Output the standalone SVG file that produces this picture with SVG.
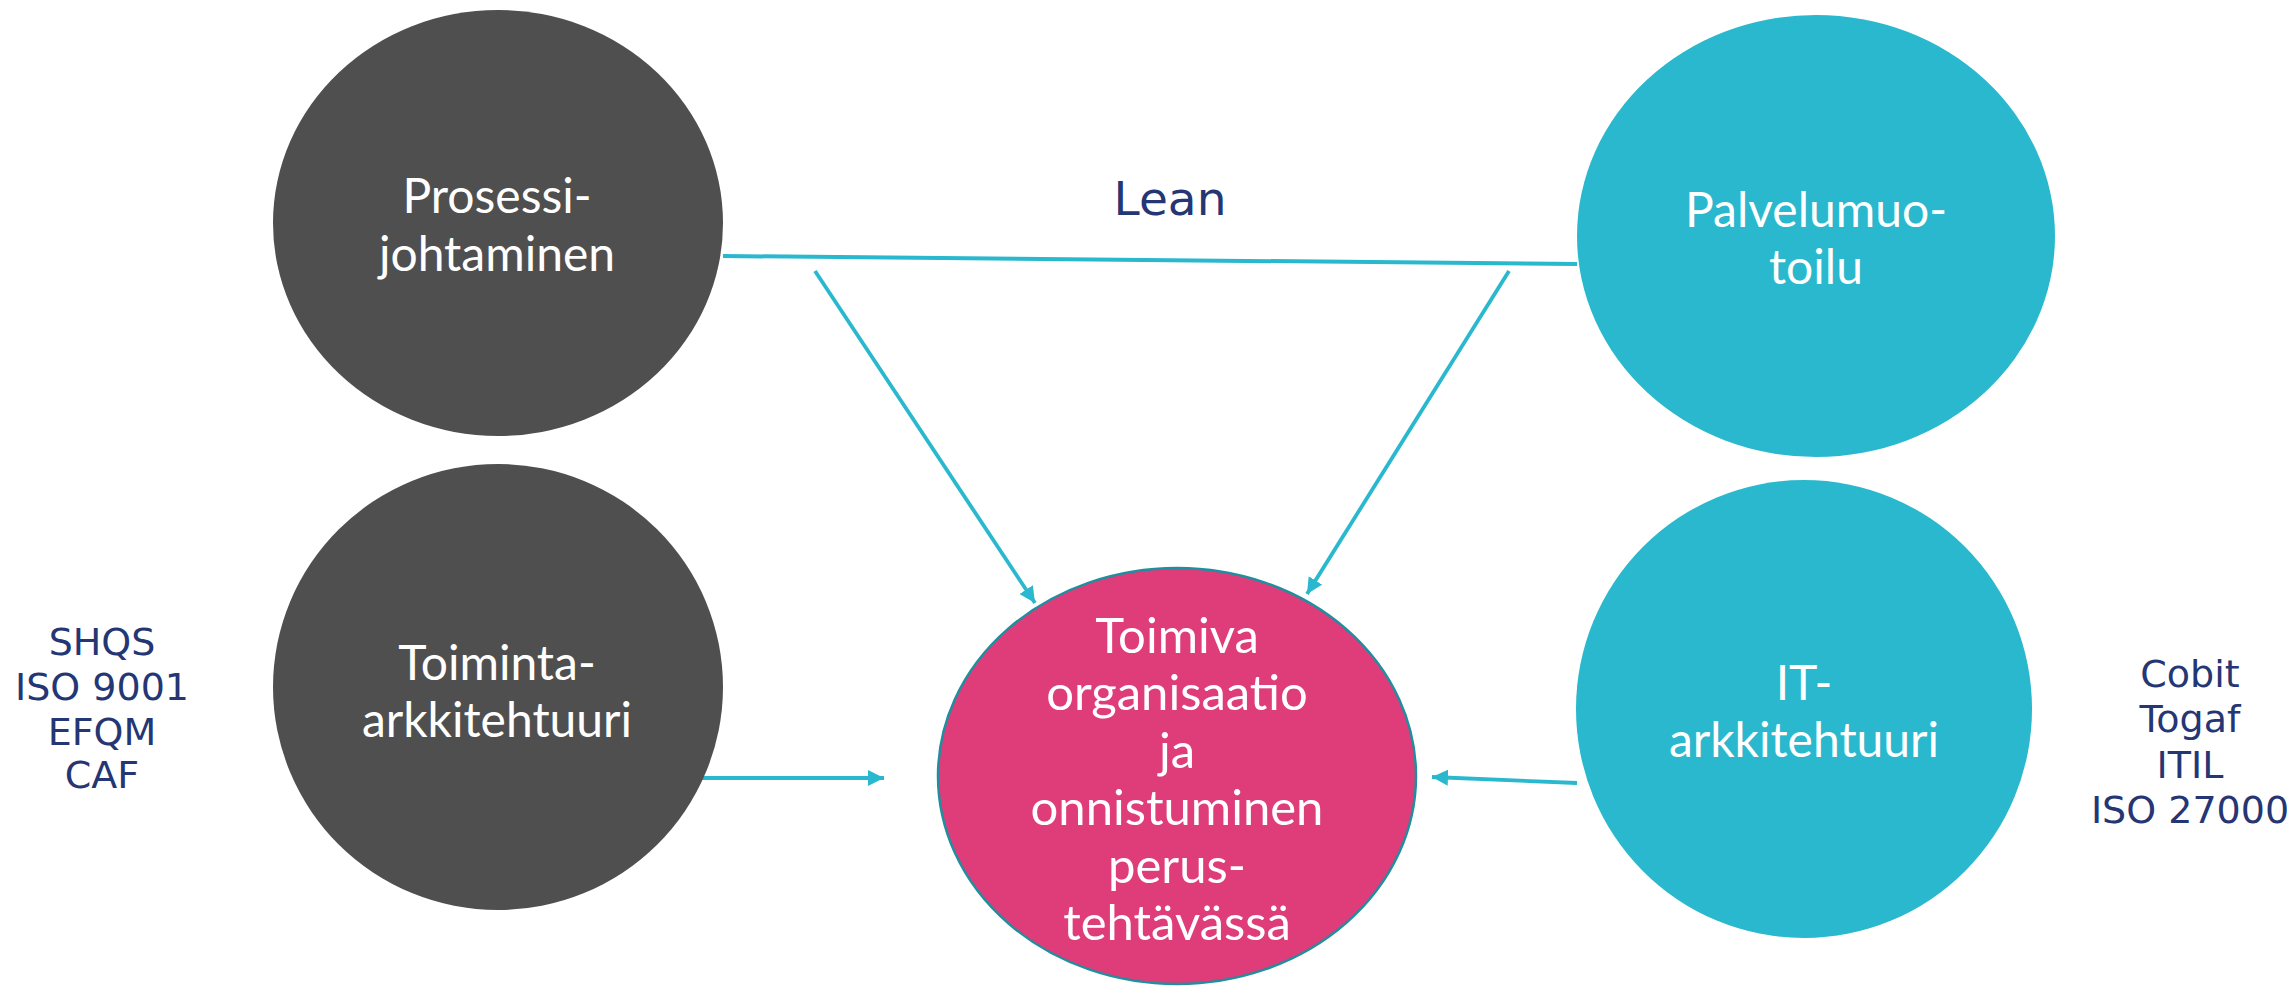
<svg xmlns="http://www.w3.org/2000/svg" width="2295" height="987" viewBox="0 0 2295 987">
<style>
.lbl{font-family:Lato,"Open Sans","Liberation Sans",sans-serif;font-size:48px;fill:#ffffff;text-anchor:middle}
.ctr{font-size:49px}
.side{font-family:"DejaVu Sans",Verdana,sans-serif;fill:#243673;text-anchor:middle}
.conn{stroke:#29B8CD;stroke-width:3.8;fill:none}
.dark{fill:#4F4F4F}
.teal{fill:#29B8CD}
</style>
<defs>
<marker id="arr" markerUnits="userSpaceOnUse" markerWidth="18" markerHeight="18" refX="16" refY="8" orient="auto">
<path d="M0,0 L16,8 L0,16 z" fill="#29B8CD"/>
</marker>
</defs>
<rect width="2295" height="987" fill="#ffffff"/>
<g id="connectors">
<line class="conn" x1="723" y1="256" x2="1577" y2="264" style="stroke-width:4"/>
<line class="conn" x1="815" y1="271" x2="1035" y2="603" marker-end="url(#arr)"/>
<line class="conn" x1="1509" y1="271" x2="1307" y2="594" marker-end="url(#arr)"/>
<line class="conn" x1="702" y1="778" x2="884" y2="778" marker-end="url(#arr)"/>
<line class="conn" x1="1577" y1="783" x2="1432" y2="777" marker-end="url(#arr)"/>
</g>
<g id="node-prosessi">
<ellipse class="dark" cx="498" cy="223" rx="225" ry="213"/>
<text class="lbl" x="497" y="213">Prosessi-</text>
<text class="lbl" x="497" y="271">johtaminen</text>
</g>
<g id="node-palvelu">
<ellipse class="teal" cx="1816" cy="236" rx="239" ry="221"/>
<text class="lbl" x="1816" y="227">Palvelumuo-</text>
<text class="lbl" x="1816" y="284">toilu</text>
</g>
<g id="node-toiminta">
<ellipse class="dark" cx="498" cy="687" rx="225" ry="223"/>
<text class="lbl" x="497" y="680">Toiminta-</text>
<text class="lbl" x="497" y="737">arkkitehtuuri</text>
</g>
<g id="node-it">
<ellipse class="teal" cx="1804" cy="709" rx="228" ry="229"/>
<text class="lbl" x="1804" y="700">IT-</text>
<text class="lbl" x="1804" y="757">arkkitehtuuri</text>
</g>
<g id="node-center">
<ellipse cx="1177" cy="776" rx="239" ry="208" fill="#DF3C7A" stroke="#1F8E9E" stroke-width="2.5"/>
<text class="lbl ctr" x="1177" y="653">Toimiva</text>
<text class="lbl ctr" x="1177" y="710">organisaatio</text>
<text class="lbl ctr" x="1177" y="768">ja</text>
<text class="lbl ctr" x="1177" y="825">onnistuminen</text>
<text class="lbl ctr" x="1177" y="883">perus-</text>
<text class="lbl ctr" x="1177" y="940">tehtävässä</text>
</g>
<g id="label-lean">
<text class="side" x="1170" y="215" font-size="47">Lean</text>
</g>
<g id="label-left">
<text class="side" x="102" y="655" font-size="38">SHQS</text>
<text class="side" x="102" y="700" font-size="38">ISO 9001</text>
<text class="side" x="102" y="745" font-size="38">EFQM</text>
<text class="side" x="102" y="788" font-size="38">CAF</text>
</g>
<g id="label-right">
<text class="side" x="2190" y="687" font-size="38">Cobit</text>
<text class="side" x="2190" y="732" font-size="38">Togaf</text>
<text class="side" x="2190" y="778" font-size="38">ITIL</text>
<text class="side" x="2190" y="823" font-size="38">ISO 27000</text>
</g>
</svg>
